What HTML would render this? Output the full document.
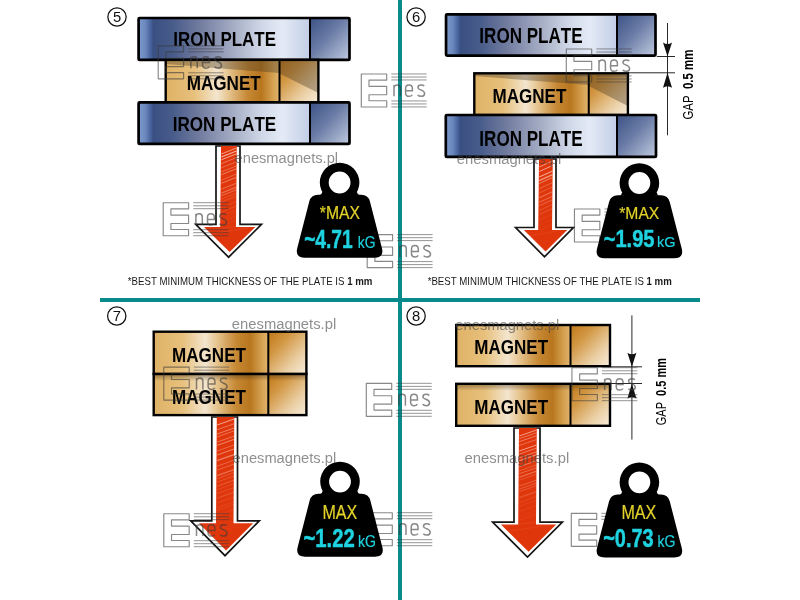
<!DOCTYPE html>
<html><head><meta charset="utf-8"><style>
html,body{margin:0;padding:0;background:#fff;}
svg{display:block;will-change:transform;} text{font-kerning:none;}
</style></head><body>
<svg width="800" height="600" viewBox="0 0 800 600">

<defs>
 <linearGradient id="ironMain" x1="0" y1="0" x2="1" y2="0">
  <stop offset="0" stop-color="#7c9acc"/>
  <stop offset="0.04" stop-color="#6a88bc"/>
  <stop offset="0.068" stop-color="#4a66a0"/>
  <stop offset="0.085" stop-color="#3a5082"/>
  <stop offset="0.2" stop-color="#485c8a"/>
  <stop offset="0.35" stop-color="#707a9e"/>
  <stop offset="0.55" stop-color="#a4acc4"/>
  <stop offset="0.72" stop-color="#d0d8e8"/>
  <stop offset="0.84" stop-color="#e4eaf6"/>
  <stop offset="1" stop-color="#c2cee6"/>
 </linearGradient>
 <linearGradient id="ironEnd" x1="0" y1="0" x2="1" y2="1">
  <stop offset="0" stop-color="#3c5286"/>
  <stop offset="0.45" stop-color="#6a7ca6"/>
  <stop offset="1" stop-color="#c0cae0"/>
 </linearGradient>
 <linearGradient id="magMain" x1="0" y1="0" x2="1" y2="0">
  <stop offset="0" stop-color="#dfb266"/>
  <stop offset="0.25" stop-color="#e7c07c"/>
  <stop offset="0.45" stop-color="#f3e5ce"/>
  <stop offset="0.55" stop-color="#e6c590"/>
  <stop offset="0.72" stop-color="#c68834"/>
  <stop offset="0.84" stop-color="#b8761e"/>
  <stop offset="0.94" stop-color="#d4a050"/>
  <stop offset="1" stop-color="#e2b470"/>
 </linearGradient>
 <linearGradient id="magEnd" x1="0" y1="0" x2="1" y2="1">
  <stop offset="0" stop-color="#c07818"/>
  <stop offset="0.3" stop-color="#d29642"/>
  <stop offset="0.7" stop-color="#eacfa4"/>
  <stop offset="1" stop-color="#f8ecdc"/>
 </linearGradient>
 <linearGradient id="topShade" x1="0" y1="0" x2="0" y2="1">
  <stop offset="0" stop-color="#3a2810" stop-opacity="0.45"/>
  <stop offset="1" stop-color="#3a2810" stop-opacity="0"/>
 </linearGradient>
</defs>
<rect width="800" height="600" fill="#fff"/>
<circle cx="117" cy="17" r="9.15" fill="none" stroke="#111" stroke-width="1.25"/><text x="117" y="21.9" text-anchor="middle" font-size="14.8" font-family='"Liberation Sans", sans-serif' fill="#111">5</text>
<rect x="138.6" y="18" width="171.4" height="41.9" fill="url(#ironMain)"/>
<rect x="310" y="18" width="39.5" height="41.9" fill="url(#ironEnd)"/>
<rect x="138.6" y="18" width="210.9" height="41.9" fill="none" stroke="#000" stroke-width="2.7" rx="1"/>
<line x1="310" y1="18" x2="310" y2="59.9" stroke="#000" stroke-width="2"/>
<text x="173.27" y="46.40" font-size="21.01" font-weight="bold" font-family='"Liberation Sans", sans-serif' fill="#000"  textLength="102.70" lengthAdjust="spacingAndGlyphs">IRON PLATE</text>
<rect x="165.7" y="59.9" width="113.80000000000001" height="42.50000000000001" fill="url(#magMain)"/>
<rect x="279.5" y="59.9" width="38.89999999999998" height="42.50000000000001" fill="url(#magEnd)"/>
<polygon points="165.7,59.9 279.5,59.9 279.5,73 165.7,64" fill="#4a3a24" opacity="0.38"/>
<polygon points="279.5,59.9 318.4,59.9 318.4,93 279.5,73.6" fill="#4a3a24" opacity="0.38"/>
<rect x="165.7" y="59.9" width="152.7" height="42.50000000000001" fill="none" stroke="#000" stroke-width="2.4"/>
<line x1="279.5" y1="59.9" x2="279.5" y2="102.4" stroke="#000" stroke-width="2"/>
<text x="186.66" y="89.70" font-size="20.87" font-weight="bold" font-family='"Liberation Sans", sans-serif' fill="#000"  textLength="74.13" lengthAdjust="spacingAndGlyphs">MAGNET</text>
<rect x="138.6" y="102.4" width="171.4" height="41.5" fill="url(#ironMain)"/>
<rect x="310" y="102.4" width="39.5" height="41.5" fill="url(#ironEnd)"/>
<rect x="138.6" y="102.4" width="210.9" height="41.5" fill="none" stroke="#000" stroke-width="2.7" rx="1"/>
<line x1="310" y1="102.4" x2="310" y2="143.9" stroke="#000" stroke-width="2"/>
<text x="172.71" y="130.60" font-size="20.87" font-weight="bold" font-family='"Liberation Sans", sans-serif' fill="#000"  textLength="103.56" lengthAdjust="spacingAndGlyphs">IRON PLATE</text>
<polygon points="216,146 240,146 240,224.4 261.5,224.4 228.6,257.2 195.7,224.4 216,224.4" fill="#fff" stroke="#151515" stroke-width="1.7" stroke-linejoin="miter"/>
<polygon points="221,146 236.8,146 236.0,226.9 255.3,226.9 229.65,252.0 204.0,226.9 220.2,226.9" fill="#e0360c"/>
<line x1="221.3" y1="154.0" x2="236.5" y2="148.0" stroke="#ffe2d8" stroke-width="0.76" opacity="0.77"/>
<line x1="221.3" y1="157.0" x2="236.5" y2="151.0" stroke="#ffe2d8" stroke-width="1.02" opacity="0.73"/>
<line x1="221.3" y1="159.8" x2="236.5" y2="153.8" stroke="#ffe2d8" stroke-width="0.93" opacity="0.70"/>
<line x1="221.3" y1="163.6" x2="236.5" y2="157.6" stroke="#ffe2d8" stroke-width="0.55" opacity="0.65"/>
<line x1="221.3" y1="167.8" x2="236.5" y2="161.8" stroke="#ffe2d8" stroke-width="0.53" opacity="0.60"/>
<line x1="221.3" y1="171.9" x2="236.5" y2="165.9" stroke="#ffe2d8" stroke-width="0.56" opacity="0.55"/>
<line x1="221.3" y1="174.7" x2="236.5" y2="168.7" stroke="#ffe2d8" stroke-width="0.84" opacity="0.51"/>
<line x1="221.3" y1="180.1" x2="236.5" y2="174.1" stroke="#ffe2d8" stroke-width="0.60" opacity="0.45"/>
<line x1="221.3" y1="183.3" x2="236.5" y2="177.3" stroke="#ffe2d8" stroke-width="1.00" opacity="0.41"/>
<line x1="221.3" y1="189.2" x2="236.5" y2="183.2" stroke="#ffe2d8" stroke-width="0.96" opacity="0.35"/>
<line x1="221.3" y1="193.1" x2="236.5" y2="187.1" stroke="#ffe2d8" stroke-width="1.28" opacity="0.31"/>
<line x1="221.3" y1="195.7" x2="236.5" y2="189.7" stroke="#ffe2d8" stroke-width="1.19" opacity="0.28"/>
<line x1="221.3" y1="199.2" x2="236.5" y2="193.2" stroke="#ffe2d8" stroke-width="0.62" opacity="0.24"/>
<line x1="221.3" y1="202.1" x2="236.5" y2="196.1" stroke="#ffe2d8" stroke-width="0.75" opacity="0.21"/>
<line x1="221.3" y1="207.5" x2="236.5" y2="201.5" stroke="#ffe2d8" stroke-width="0.64" opacity="0.16"/>
<line x1="221.3" y1="212.0" x2="236.5" y2="206.0" stroke="#ffe2d8" stroke-width="1.01" opacity="0.12"/>
<line x1="221.3" y1="215.8" x2="236.5" y2="209.8" stroke="#ffe2d8" stroke-width="0.94" opacity="0.09"/>
<line x1="221.3" y1="218.6" x2="236.5" y2="212.6" stroke="#ffe2d8" stroke-width="0.55" opacity="0.07"/>
<line x1="221.3" y1="221.8" x2="236.5" y2="215.8" stroke="#ffe2d8" stroke-width="1.04" opacity="0.06"/>
<line x1="221.3" y1="225.8" x2="236.5" y2="219.8" stroke="#ffe2d8" stroke-width="0.75" opacity="0.06"/>
<line x1="207.9" y1="230.3" x2="251.4" y2="224.3" stroke="#ffe2d8" stroke-width="0.86" opacity="0.06"/>
<line x1="211.1" y1="233.9" x2="248.2" y2="227.9" stroke="#ffe2d8" stroke-width="1.14" opacity="0.06"/>
<text x="127.84" y="284.80" font-size="11.59" font-weight="normal" font-family='"Liberation Sans", sans-serif' fill="#1a1a1a"  textLength="244.56" lengthAdjust="spacingAndGlyphs">*BEST MINIMUM THICKNESS OF THE PLATE IS <tspan font-weight="bold">1 mm</tspan></text>
<circle cx="416.1" cy="17" r="9.15" fill="none" stroke="#111" stroke-width="1.25"/><text x="416.1" y="21.9" text-anchor="middle" font-size="14.8" font-family='"Liberation Sans", sans-serif' fill="#111">6</text>
<rect x="446.05" y="14.4" width="170.95" height="41.2" fill="url(#ironMain)"/>
<rect x="617" y="14.4" width="38.5" height="41.2" fill="url(#ironEnd)"/>
<rect x="446.05" y="14.4" width="209.45" height="41.2" fill="none" stroke="#000" stroke-width="2.7" rx="1"/>
<line x1="617" y1="14.4" x2="617" y2="55.6" stroke="#000" stroke-width="2"/>
<text x="479.36" y="42.80" font-size="21.45" font-weight="bold" font-family='"Liberation Sans", sans-serif' fill="#000"  textLength="103.31" lengthAdjust="spacingAndGlyphs">IRON PLATE</text>
<rect x="474.3" y="73.3" width="114.44999999999999" height="41.7" fill="url(#magMain)"/>
<rect x="588.75" y="73.3" width="39.14999999999998" height="41.7" fill="url(#magEnd)"/>
<polygon points="474.3,73.3 588.75,73.3 588.75,85 474.3,76" fill="#4a3a24" opacity="0.38"/>
<polygon points="588.75,73.3 627.9,73.3 627.9,106 588.75,86" fill="#4a3a24" opacity="0.38"/>
<rect x="474.3" y="73.3" width="153.59999999999997" height="41.7" fill="none" stroke="#000" stroke-width="2.4"/>
<line x1="588.75" y1="73.3" x2="588.75" y2="115" stroke="#000" stroke-width="2"/>
<text x="492.46" y="102.60" font-size="20.80" font-weight="bold" font-family='"Liberation Sans", sans-serif' fill="#000"  textLength="73.92" lengthAdjust="spacingAndGlyphs">MAGNET</text>
<rect x="445.8" y="115" width="171.2" height="41.900000000000006" fill="url(#ironMain)"/>
<rect x="617" y="115" width="39" height="41.900000000000006" fill="url(#ironEnd)"/>
<rect x="445.8" y="115" width="210.2" height="41.900000000000006" fill="none" stroke="#000" stroke-width="2.7" rx="1"/>
<line x1="617" y1="115" x2="617" y2="156.9" stroke="#000" stroke-width="2"/>
<text x="479.36" y="145.70" font-size="21.45" font-weight="bold" font-family='"Liberation Sans", sans-serif' fill="#000"  textLength="103.31" lengthAdjust="spacingAndGlyphs">IRON PLATE</text>
<polygon points="534,159 556,159 556,227.5 573.4,227.5 544.5,256.8 515.6,227.5 534,227.5" fill="#fff" stroke="#151515" stroke-width="1.7" stroke-linejoin="miter"/>
<polygon points="539,159 552.8,159 552.0,230.0 567.1999999999999,230.0 545.55,251.60000000000002 523.9,230.0 538.2,230.0" fill="#e0360c"/>
<line x1="539.3" y1="167.0" x2="552.5" y2="161.0" stroke="#ffe2d8" stroke-width="0.70" opacity="0.77"/>
<line x1="539.3" y1="171.5" x2="552.5" y2="165.5" stroke="#ffe2d8" stroke-width="0.92" opacity="0.70"/>
<line x1="539.3" y1="177.1" x2="552.5" y2="171.1" stroke="#ffe2d8" stroke-width="1.08" opacity="0.62"/>
<line x1="539.3" y1="180.6" x2="552.5" y2="174.6" stroke="#ffe2d8" stroke-width="1.28" opacity="0.57"/>
<line x1="539.3" y1="183.5" x2="552.5" y2="177.5" stroke="#ffe2d8" stroke-width="0.83" opacity="0.53"/>
<line x1="539.3" y1="188.6" x2="552.5" y2="182.6" stroke="#ffe2d8" stroke-width="0.62" opacity="0.46"/>
<line x1="539.3" y1="192.9" x2="552.5" y2="186.9" stroke="#ffe2d8" stroke-width="0.53" opacity="0.41"/>
<line x1="539.3" y1="197.7" x2="552.5" y2="191.7" stroke="#ffe2d8" stroke-width="1.11" opacity="0.34"/>
<line x1="539.3" y1="202.2" x2="552.5" y2="196.2" stroke="#ffe2d8" stroke-width="1.20" opacity="0.29"/>
<line x1="539.3" y1="205.8" x2="552.5" y2="199.8" stroke="#ffe2d8" stroke-width="1.06" opacity="0.25"/>
<line x1="539.3" y1="210.4" x2="552.5" y2="204.4" stroke="#ffe2d8" stroke-width="0.96" opacity="0.19"/>
<line x1="539.3" y1="214.5" x2="552.5" y2="208.5" stroke="#ffe2d8" stroke-width="1.17" opacity="0.15"/>
<line x1="539.3" y1="220.3" x2="552.5" y2="214.3" stroke="#ffe2d8" stroke-width="0.88" opacity="0.09"/>
<line x1="539.3" y1="225.1" x2="552.5" y2="219.1" stroke="#ffe2d8" stroke-width="0.55" opacity="0.06"/>
<line x1="539.3" y1="230.1" x2="552.5" y2="224.1" stroke="#ffe2d8" stroke-width="1.02" opacity="0.06"/>
<line x1="530.2" y1="236.0" x2="560.9" y2="230.0" stroke="#ffe2d8" stroke-width="1.16" opacity="0.06"/>
<line x1="667.5" y1="23" x2="667.5" y2="135.3" stroke="#111" stroke-width="0.9"/>
<line x1="656.8" y1="56.5" x2="675" y2="56.5" stroke="#111" stroke-width="0.9"/>
<line x1="628" y1="72.8" x2="675" y2="72.8" stroke="#111" stroke-width="0.9"/>
<path d="M663.0,42.5 Q667.5,45.5 672.0,42.5 L667.5,56.5 Z" fill="#111"/>
<path d="M663.0,87.8 Q667.5,84.8 672.0,87.8 L667.5,72.8 Z" fill="#111"/>
<g transform="translate(693.2,119) rotate(-90)"><text x="-0.57" y="0.00" font-size="15.07" font-weight="normal" font-family='"Liberation Sans", sans-serif' fill="#000"  textLength="69.88" lengthAdjust="spacingAndGlyphs">GAP  <tspan font-weight="bold">0.5 mm</tspan></text></g>
<text x="427.64" y="284.80" font-size="11.59" font-weight="normal" font-family='"Liberation Sans", sans-serif' fill="#1a1a1a"  textLength="244.15" lengthAdjust="spacingAndGlyphs">*BEST MINIMUM THICKNESS OF THE PLATE IS <tspan font-weight="bold">1 mm</tspan></text>
<circle cx="116.75" cy="316" r="9.15" fill="none" stroke="#111" stroke-width="1.25"/><text x="116.75" y="320.9" text-anchor="middle" font-size="14.8" font-family='"Liberation Sans", sans-serif' fill="#111">7</text>
<rect x="153.7" y="331.7" width="114.60000000000002" height="42.30000000000001" fill="url(#magMain)"/>
<rect x="268.3" y="331.7" width="38.099999999999966" height="42.30000000000001" fill="url(#magEnd)"/>
<rect x="153.7" y="331.7" width="152.7" height="42.30000000000001" fill="none" stroke="#000" stroke-width="2.4"/>
<line x1="268.3" y1="331.7" x2="268.3" y2="374" stroke="#000" stroke-width="2"/>
<text x="172.06" y="361.50" font-size="21.01" font-weight="bold" font-family='"Liberation Sans", sans-serif' fill="#000"  textLength="73.92" lengthAdjust="spacingAndGlyphs">MAGNET</text>
<rect x="153.7" y="374" width="114.60000000000002" height="41.10000000000002" fill="url(#magMain)"/>
<rect x="268.3" y="374" width="38.099999999999966" height="41.10000000000002" fill="url(#magEnd)"/>
<rect x="153.7" y="374" width="152.7" height="7" fill="url(#topShade)"/>
<rect x="153.7" y="374" width="152.7" height="41.10000000000002" fill="none" stroke="#000" stroke-width="2.4"/>
<line x1="268.3" y1="374" x2="268.3" y2="415.1" stroke="#000" stroke-width="2"/>
<text x="172.06" y="403.50" font-size="21.01" font-weight="bold" font-family='"Liberation Sans", sans-serif' fill="#000"  textLength="73.92" lengthAdjust="spacingAndGlyphs">MAGNET</text>
<polygon points="211.8,417 237.5,417 237.5,520.8 259.3,520.8 225.0,555.7 190.7,520.8 211.8,520.8" fill="#fff" stroke="#151515" stroke-width="1.7" stroke-linejoin="miter"/>
<polygon points="216.8,417 234.3,417 233.5,523.3 253.10000000000002,523.3 226.05,550.5 199.0,523.3 216.0,523.3" fill="#e0360c"/>
<line x1="217.1" y1="425.0" x2="234.0" y2="419.0" stroke="#ffe2d8" stroke-width="0.81" opacity="0.78"/>
<line x1="217.1" y1="429.8" x2="234.0" y2="423.8" stroke="#ffe2d8" stroke-width="0.52" opacity="0.73"/>
<line x1="217.1" y1="434.0" x2="234.0" y2="428.0" stroke="#ffe2d8" stroke-width="0.63" opacity="0.69"/>
<line x1="217.1" y1="436.9" x2="234.0" y2="430.9" stroke="#ffe2d8" stroke-width="0.55" opacity="0.66"/>
<line x1="217.1" y1="442.1" x2="234.0" y2="436.1" stroke="#ffe2d8" stroke-width="0.60" opacity="0.61"/>
<line x1="217.1" y1="445.4" x2="234.0" y2="439.4" stroke="#ffe2d8" stroke-width="0.81" opacity="0.58"/>
<line x1="217.1" y1="451.0" x2="234.0" y2="445.0" stroke="#ffe2d8" stroke-width="0.56" opacity="0.53"/>
<line x1="217.1" y1="455.0" x2="234.0" y2="449.0" stroke="#ffe2d8" stroke-width="0.94" opacity="0.50"/>
<line x1="217.1" y1="460.6" x2="234.0" y2="454.6" stroke="#ffe2d8" stroke-width="1.16" opacity="0.45"/>
<line x1="217.1" y1="466.2" x2="234.0" y2="460.2" stroke="#ffe2d8" stroke-width="0.72" opacity="0.40"/>
<line x1="217.1" y1="470.1" x2="234.0" y2="464.1" stroke="#ffe2d8" stroke-width="0.79" opacity="0.36"/>
<line x1="217.1" y1="475.7" x2="234.0" y2="469.7" stroke="#ffe2d8" stroke-width="1.27" opacity="0.32"/>
<line x1="217.1" y1="478.7" x2="234.0" y2="472.7" stroke="#ffe2d8" stroke-width="0.64" opacity="0.29"/>
<line x1="217.1" y1="482.0" x2="234.0" y2="476.0" stroke="#ffe2d8" stroke-width="0.69" opacity="0.27"/>
<line x1="217.1" y1="486.2" x2="234.0" y2="480.2" stroke="#ffe2d8" stroke-width="0.97" opacity="0.24"/>
<line x1="217.1" y1="489.7" x2="234.0" y2="483.7" stroke="#ffe2d8" stroke-width="0.50" opacity="0.21"/>
<line x1="217.1" y1="493.6" x2="234.0" y2="487.6" stroke="#ffe2d8" stroke-width="0.80" opacity="0.18"/>
<line x1="217.1" y1="498.1" x2="234.0" y2="492.1" stroke="#ffe2d8" stroke-width="1.26" opacity="0.15"/>
<line x1="217.1" y1="503.0" x2="234.0" y2="497.0" stroke="#ffe2d8" stroke-width="0.91" opacity="0.12"/>
<line x1="217.1" y1="507.7" x2="234.0" y2="501.7" stroke="#ffe2d8" stroke-width="1.04" opacity="0.09"/>
<line x1="217.1" y1="510.4" x2="234.0" y2="504.4" stroke="#ffe2d8" stroke-width="1.22" opacity="0.07"/>
<line x1="217.1" y1="515.6" x2="234.0" y2="509.6" stroke="#ffe2d8" stroke-width="1.20" opacity="0.06"/>
<line x1="217.1" y1="520.9" x2="234.0" y2="514.9" stroke="#ffe2d8" stroke-width="0.81" opacity="0.06"/>
<line x1="201.2" y1="524.8" x2="250.9" y2="518.8" stroke="#ffe2d8" stroke-width="0.58" opacity="0.06"/>
<line x1="205.4" y1="529.5" x2="246.7" y2="523.5" stroke="#ffe2d8" stroke-width="0.55" opacity="0.06"/>
<line x1="207.9" y1="532.3" x2="244.2" y2="526.3" stroke="#ffe2d8" stroke-width="0.67" opacity="0.06"/>
<circle cx="416.1" cy="316" r="9.15" fill="none" stroke="#111" stroke-width="1.25"/><text x="416.1" y="320.9" text-anchor="middle" font-size="14.8" font-family='"Liberation Sans", sans-serif' fill="#111">8</text>
<rect x="456.2" y="325" width="114.30000000000001" height="41.19999999999999" fill="url(#magMain)"/>
<rect x="570.5" y="325" width="39.5" height="41.19999999999999" fill="url(#magEnd)"/>
<rect x="456.2" y="325" width="153.8" height="41.19999999999999" fill="none" stroke="#000" stroke-width="2.4"/>
<line x1="570.5" y1="325" x2="570.5" y2="366.2" stroke="#000" stroke-width="2"/>
<text x="474.26" y="354.10" font-size="20.43" font-weight="bold" font-family='"Liberation Sans", sans-serif' fill="#000"  textLength="73.82" lengthAdjust="spacingAndGlyphs">MAGNET</text>
<rect x="456.2" y="383.8" width="114.30000000000001" height="42.0" fill="url(#magMain)"/>
<rect x="570.5" y="383.8" width="39.5" height="42.0" fill="url(#magEnd)"/>
<rect x="456.2" y="383.8" width="153.8" height="7" fill="url(#topShade)"/>
<rect x="456.2" y="383.8" width="153.8" height="42.0" fill="none" stroke="#000" stroke-width="2.4"/>
<line x1="570.5" y1="383.8" x2="570.5" y2="425.8" stroke="#000" stroke-width="2"/>
<text x="474.26" y="413.60" font-size="20.58" font-weight="bold" font-family='"Liberation Sans", sans-serif' fill="#000"  textLength="73.82" lengthAdjust="spacingAndGlyphs">MAGNET</text>
<polygon points="514,428 540,428 540,522.1 562.4,522.1 527.5,557 492.6,522.1 514,522.1" fill="#fff" stroke="#151515" stroke-width="1.7" stroke-linejoin="miter"/>
<polygon points="519,428 536.8,428 536.0,524.6 556.1999999999999,524.6 528.55,551.8 500.90000000000003,524.6 518.2,524.6" fill="#e0360c"/>
<line x1="519.3" y1="436.0" x2="536.5" y2="430.0" stroke="#ffe2d8" stroke-width="0.77" opacity="0.78"/>
<line x1="519.3" y1="438.7" x2="536.5" y2="432.7" stroke="#ffe2d8" stroke-width="0.50" opacity="0.75"/>
<line x1="519.3" y1="441.7" x2="536.5" y2="435.7" stroke="#ffe2d8" stroke-width="0.58" opacity="0.72"/>
<line x1="519.3" y1="445.5" x2="536.5" y2="439.5" stroke="#ffe2d8" stroke-width="0.52" opacity="0.68"/>
<line x1="519.3" y1="451.0" x2="536.5" y2="445.0" stroke="#ffe2d8" stroke-width="0.99" opacity="0.62"/>
<line x1="519.3" y1="454.1" x2="536.5" y2="448.1" stroke="#ffe2d8" stroke-width="0.70" opacity="0.59"/>
<line x1="519.3" y1="457.8" x2="536.5" y2="451.8" stroke="#ffe2d8" stroke-width="0.79" opacity="0.55"/>
<line x1="519.3" y1="460.7" x2="536.5" y2="454.7" stroke="#ffe2d8" stroke-width="1.18" opacity="0.52"/>
<line x1="519.3" y1="466.7" x2="536.5" y2="460.7" stroke="#ffe2d8" stroke-width="0.87" opacity="0.46"/>
<line x1="519.3" y1="470.9" x2="536.5" y2="464.9" stroke="#ffe2d8" stroke-width="0.57" opacity="0.42"/>
<line x1="519.3" y1="473.7" x2="536.5" y2="467.7" stroke="#ffe2d8" stroke-width="0.77" opacity="0.39"/>
<line x1="519.3" y1="477.2" x2="536.5" y2="471.2" stroke="#ffe2d8" stroke-width="1.16" opacity="0.36"/>
<line x1="519.3" y1="480.2" x2="536.5" y2="474.2" stroke="#ffe2d8" stroke-width="0.52" opacity="0.33"/>
<line x1="519.3" y1="486.1" x2="536.5" y2="480.1" stroke="#ffe2d8" stroke-width="0.92" opacity="0.28"/>
<line x1="519.3" y1="489.1" x2="536.5" y2="483.1" stroke="#ffe2d8" stroke-width="0.93" opacity="0.25"/>
<line x1="519.3" y1="491.7" x2="536.5" y2="485.7" stroke="#ffe2d8" stroke-width="0.92" opacity="0.23"/>
<line x1="519.3" y1="497.6" x2="536.5" y2="491.6" stroke="#ffe2d8" stroke-width="1.19" opacity="0.18"/>
<line x1="519.3" y1="502.5" x2="536.5" y2="496.5" stroke="#ffe2d8" stroke-width="0.71" opacity="0.15"/>
<line x1="519.3" y1="506.3" x2="536.5" y2="500.3" stroke="#ffe2d8" stroke-width="0.63" opacity="0.12"/>
<line x1="519.3" y1="511.5" x2="536.5" y2="505.5" stroke="#ffe2d8" stroke-width="0.93" opacity="0.08"/>
<line x1="519.3" y1="516.7" x2="536.5" y2="510.7" stroke="#ffe2d8" stroke-width="0.76" opacity="0.06"/>
<line x1="519.3" y1="520.0" x2="536.5" y2="514.0" stroke="#ffe2d8" stroke-width="1.15" opacity="0.06"/>
<line x1="503.0" y1="526.0" x2="554.1" y2="520.0" stroke="#ffe2d8" stroke-width="1.18" opacity="0.06"/>
<line x1="507.8" y1="531.3" x2="549.3" y2="525.3" stroke="#ffe2d8" stroke-width="1.15" opacity="0.06"/>
<line x1="631.9" y1="315.4" x2="631.9" y2="439.6" stroke="#111" stroke-width="0.9"/>
<line x1="611" y1="366.8" x2="642" y2="366.8" stroke="#111" stroke-width="0.9"/>
<line x1="611" y1="383.5" x2="642" y2="383.5" stroke="#111" stroke-width="0.9"/>
<path d="M627.4,352.8 Q631.9,355.8 636.4,352.8 L631.9,366.8 Z" fill="#111"/>
<path d="M627.4,398.5 Q631.9,395.5 636.4,398.5 L631.9,383.5 Z" fill="#111"/>
<g transform="translate(665.6,424.7) rotate(-90)"><text x="-0.55" y="0.00" font-size="14.49" font-weight="normal" font-family='"Liberation Sans", sans-serif' fill="#000"  textLength="67.24" lengthAdjust="spacingAndGlyphs">GAP  <tspan font-weight="bold">0.5 mm</tspan></text></g>
<rect x="398" y="0" width="4" height="600" fill="#0a8a8a"/>
<rect x="100" y="298" width="600" height="4" fill="#0a8a8a"/>
<g opacity="0.6" fill="none" stroke="#3a3a3a">
<path d="M158.20,45.80 H183.60 V51.90 H165.90 V58.20 H183.60 V66.60 H165.90 V72.60 H183.60 V78.80 H158.20 Z" stroke-width="1.15" stroke-linejoin="round"/>
<line x1="188.20" y1="45.80" x2="223.60" y2="45.80" stroke-width="0.9"/>
<line x1="188.20" y1="48.90" x2="223.60" y2="48.90" stroke-width="0.9"/>
<line x1="188.20" y1="51.80" x2="223.60" y2="51.80" stroke-width="0.9"/>
<line x1="188.20" y1="72.80" x2="223.60" y2="72.80" stroke-width="0.9"/>
<line x1="188.20" y1="75.80" x2="223.60" y2="75.80" stroke-width="0.9"/>
<line x1="188.20" y1="78.80" x2="223.60" y2="78.80" stroke-width="0.9"/>
<path d="M190.90,68.20 V56.80 M190.90,60.00 C190.90,57.60 192.60,56.80 194.40,56.80 C196.40,56.80 197.30,57.90 197.30,60.10 V68.20 M202.50,62.60 H209.30 V60.40 C209.30,57.80 207.90,56.80 205.90,56.80 C203.80,56.80 202.50,57.80 202.50,60.40 V64.80 C202.50,67.30 203.80,68.20 206.00,68.20 C207.50,68.20 208.60,67.70 209.20,66.60 M221.20,58.00 C220.50,57.10 219.40,56.80 218.10,56.80 C216.10,56.80 214.80,57.70 214.80,59.50 C214.80,62.10 221.50,61.40 221.50,65.30 C221.50,67.30 220.20,68.20 218.10,68.20 C216.60,68.20 215.30,67.70 214.60,66.80" stroke-width="1.5" stroke-linecap="butt"/>
</g>
<g opacity="0.6" fill="none" stroke="#3a3a3a">
<path d="M361.30,73.95 H386.70 V80.05 H369.00 V86.35 H386.70 V94.75 H369.00 V100.75 H386.70 V106.95 H361.30 Z" stroke-width="1.15" stroke-linejoin="round"/>
<line x1="391.30" y1="73.95" x2="426.70" y2="73.95" stroke-width="0.9"/>
<line x1="391.30" y1="77.05" x2="426.70" y2="77.05" stroke-width="0.9"/>
<line x1="391.30" y1="79.95" x2="426.70" y2="79.95" stroke-width="0.9"/>
<line x1="391.30" y1="100.95" x2="426.70" y2="100.95" stroke-width="0.9"/>
<line x1="391.30" y1="103.95" x2="426.70" y2="103.95" stroke-width="0.9"/>
<line x1="391.30" y1="106.95" x2="426.70" y2="106.95" stroke-width="0.9"/>
<path d="M394.00,96.35 V84.95 M394.00,88.15 C394.00,85.75 395.70,84.95 397.50,84.95 C399.50,84.95 400.40,86.05 400.40,88.25 V96.35 M405.60,90.75 H412.40 V88.55 C412.40,85.95 411.00,84.95 409.00,84.95 C406.90,84.95 405.60,85.95 405.60,88.55 V92.95 C405.60,95.45 406.90,96.35 409.10,96.35 C410.60,96.35 411.70,95.85 412.30,94.75 M424.30,86.15 C423.60,85.25 422.50,84.95 421.20,84.95 C419.20,84.95 417.90,85.85 417.90,87.65 C417.90,90.25 424.60,89.55 424.60,93.45 C424.60,95.45 423.30,96.35 421.20,96.35 C419.70,96.35 418.40,95.85 417.70,94.95" stroke-width="1.5" stroke-linecap="butt"/>
</g>
<g opacity="0.6" fill="none" stroke="#3a3a3a">
<path d="M163.20,202.70 H188.60 V208.80 H170.90 V215.10 H188.60 V223.50 H170.90 V229.50 H188.60 V235.70 H163.20 Z" stroke-width="1.15" stroke-linejoin="round"/>
<line x1="193.20" y1="202.70" x2="228.60" y2="202.70" stroke-width="0.9"/>
<line x1="193.20" y1="205.80" x2="228.60" y2="205.80" stroke-width="0.9"/>
<line x1="193.20" y1="208.70" x2="228.60" y2="208.70" stroke-width="0.9"/>
<line x1="193.20" y1="229.70" x2="228.60" y2="229.70" stroke-width="0.9"/>
<line x1="193.20" y1="232.70" x2="228.60" y2="232.70" stroke-width="0.9"/>
<line x1="193.20" y1="235.70" x2="228.60" y2="235.70" stroke-width="0.9"/>
<path d="M195.90,225.10 V213.70 M195.90,216.90 C195.90,214.50 197.60,213.70 199.40,213.70 C201.40,213.70 202.30,214.80 202.30,217.00 V225.10 M207.50,219.50 H214.30 V217.30 C214.30,214.70 212.90,213.70 210.90,213.70 C208.80,213.70 207.50,214.70 207.50,217.30 V221.70 C207.50,224.20 208.80,225.10 211.00,225.10 C212.50,225.10 213.60,224.60 214.20,223.50 M226.20,214.90 C225.50,214.00 224.40,213.70 223.10,213.70 C221.10,213.70 219.80,214.60 219.80,216.40 C219.80,219.00 226.50,218.30 226.50,222.20 C226.50,224.20 225.20,225.10 223.10,225.10 C221.60,225.10 220.30,224.60 219.60,223.70" stroke-width="1.5" stroke-linecap="butt"/>
</g>
<g opacity="0.6" fill="none" stroke="#3a3a3a">
<path d="M367.20,234.60 H392.60 V240.70 H374.90 V247.00 H392.60 V255.40 H374.90 V261.40 H392.60 V267.60 H367.20 Z" stroke-width="1.15" stroke-linejoin="round"/>
<line x1="397.20" y1="234.60" x2="432.60" y2="234.60" stroke-width="0.9"/>
<line x1="397.20" y1="237.70" x2="432.60" y2="237.70" stroke-width="0.9"/>
<line x1="397.20" y1="240.60" x2="432.60" y2="240.60" stroke-width="0.9"/>
<line x1="397.20" y1="261.60" x2="432.60" y2="261.60" stroke-width="0.9"/>
<line x1="397.20" y1="264.60" x2="432.60" y2="264.60" stroke-width="0.9"/>
<line x1="397.20" y1="267.60" x2="432.60" y2="267.60" stroke-width="0.9"/>
<path d="M399.90,257.00 V245.60 M399.90,248.80 C399.90,246.40 401.60,245.60 403.40,245.60 C405.40,245.60 406.30,246.70 406.30,248.90 V257.00 M411.50,251.40 H418.30 V249.20 C418.30,246.60 416.90,245.60 414.90,245.60 C412.80,245.60 411.50,246.60 411.50,249.20 V253.60 C411.50,256.10 412.80,257.00 415.00,257.00 C416.50,257.00 417.60,256.50 418.20,255.40 M430.20,246.80 C429.50,245.90 428.40,245.60 427.10,245.60 C425.10,245.60 423.80,246.50 423.80,248.30 C423.80,250.90 430.50,250.20 430.50,254.10 C430.50,256.10 429.20,257.00 427.10,257.00 C425.60,257.00 424.30,256.50 423.60,255.60" stroke-width="1.5" stroke-linecap="butt"/>
</g>
<g opacity="0.6" fill="none" stroke="#3a3a3a">
<path d="M566.30,48.95 H591.70 V55.05 H574.00 V61.35 H591.70 V69.75 H574.00 V75.75 H591.70 V81.95 H566.30 Z" stroke-width="1.15" stroke-linejoin="round"/>
<line x1="596.30" y1="48.95" x2="631.70" y2="48.95" stroke-width="0.9"/>
<line x1="596.30" y1="52.05" x2="631.70" y2="52.05" stroke-width="0.9"/>
<line x1="596.30" y1="54.95" x2="631.70" y2="54.95" stroke-width="0.9"/>
<line x1="596.30" y1="75.95" x2="631.70" y2="75.95" stroke-width="0.9"/>
<line x1="596.30" y1="78.95" x2="631.70" y2="78.95" stroke-width="0.9"/>
<line x1="596.30" y1="81.95" x2="631.70" y2="81.95" stroke-width="0.9"/>
<path d="M599.00,71.35 V59.95 M599.00,63.15 C599.00,60.75 600.70,59.95 602.50,59.95 C604.50,59.95 605.40,61.05 605.40,63.25 V71.35 M610.60,65.75 H617.40 V63.55 C617.40,60.95 616.00,59.95 614.00,59.95 C611.90,59.95 610.60,60.95 610.60,63.55 V67.95 C610.60,70.45 611.90,71.35 614.10,71.35 C615.60,71.35 616.70,70.85 617.30,69.75 M629.30,61.15 C628.60,60.25 627.50,59.95 626.20,59.95 C624.20,59.95 622.90,60.85 622.90,62.65 C622.90,65.25 629.60,64.55 629.60,68.45 C629.60,70.45 628.30,71.35 626.20,71.35 C624.70,71.35 623.40,70.85 622.70,69.95" stroke-width="1.5" stroke-linecap="butt"/>
</g>
<g opacity="0.6" fill="none" stroke="#3a3a3a">
<path d="M574.45,208.95 H599.85 V215.05 H582.15 V221.35 H599.85 V229.75 H582.15 V235.75 H599.85 V241.95 H574.45 Z" stroke-width="1.15" stroke-linejoin="round"/>
<line x1="604.45" y1="208.95" x2="639.85" y2="208.95" stroke-width="0.9"/>
<line x1="604.45" y1="212.05" x2="639.85" y2="212.05" stroke-width="0.9"/>
<line x1="604.45" y1="214.95" x2="639.85" y2="214.95" stroke-width="0.9"/>
<line x1="604.45" y1="235.95" x2="639.85" y2="235.95" stroke-width="0.9"/>
<line x1="604.45" y1="238.95" x2="639.85" y2="238.95" stroke-width="0.9"/>
<line x1="604.45" y1="241.95" x2="639.85" y2="241.95" stroke-width="0.9"/>
<path d="M607.15,231.35 V219.95 M607.15,223.15 C607.15,220.75 608.85,219.95 610.65,219.95 C612.65,219.95 613.55,221.05 613.55,223.25 V231.35 M618.75,225.75 H625.55 V223.55 C625.55,220.95 624.15,219.95 622.15,219.95 C620.05,219.95 618.75,220.95 618.75,223.55 V227.95 C618.75,230.45 620.05,231.35 622.25,231.35 C623.75,231.35 624.85,230.85 625.45,229.75 M637.45,221.15 C636.75,220.25 635.65,219.95 634.35,219.95 C632.35,219.95 631.05,220.85 631.05,222.65 C631.05,225.25 637.75,224.55 637.75,228.45 C637.75,230.45 636.45,231.35 634.35,231.35 C632.85,231.35 631.55,230.85 630.85,229.95" stroke-width="1.5" stroke-linecap="butt"/>
</g>
<g opacity="0.6" fill="none" stroke="#3a3a3a">
<path d="M163.80,367.10 H189.20 V373.20 H171.50 V379.50 H189.20 V387.90 H171.50 V393.90 H189.20 V400.10 H163.80 Z" stroke-width="1.15" stroke-linejoin="round"/>
<line x1="193.80" y1="367.10" x2="229.20" y2="367.10" stroke-width="0.9"/>
<line x1="193.80" y1="370.20" x2="229.20" y2="370.20" stroke-width="0.9"/>
<line x1="193.80" y1="373.10" x2="229.20" y2="373.10" stroke-width="0.9"/>
<line x1="193.80" y1="394.10" x2="229.20" y2="394.10" stroke-width="0.9"/>
<line x1="193.80" y1="397.10" x2="229.20" y2="397.10" stroke-width="0.9"/>
<line x1="193.80" y1="400.10" x2="229.20" y2="400.10" stroke-width="0.9"/>
<path d="M196.50,389.50 V378.10 M196.50,381.30 C196.50,378.90 198.20,378.10 200.00,378.10 C202.00,378.10 202.90,379.20 202.90,381.40 V389.50 M208.10,383.90 H214.90 V381.70 C214.90,379.10 213.50,378.10 211.50,378.10 C209.40,378.10 208.10,379.10 208.10,381.70 V386.10 C208.10,388.60 209.40,389.50 211.60,389.50 C213.10,389.50 214.20,389.00 214.80,387.90 M226.80,379.30 C226.10,378.40 225.00,378.10 223.70,378.10 C221.70,378.10 220.40,379.00 220.40,380.80 C220.40,383.40 227.10,382.70 227.10,386.60 C227.10,388.60 225.80,389.50 223.70,389.50 C222.20,389.50 220.90,389.00 220.20,388.10" stroke-width="1.5" stroke-linecap="butt"/>
</g>
<g opacity="0.6" fill="none" stroke="#3a3a3a">
<path d="M366.30,383.30 H391.70 V389.40 H374.00 V395.70 H391.70 V404.10 H374.00 V410.10 H391.70 V416.30 H366.30 Z" stroke-width="1.15" stroke-linejoin="round"/>
<line x1="396.30" y1="383.30" x2="431.70" y2="383.30" stroke-width="0.9"/>
<line x1="396.30" y1="386.40" x2="431.70" y2="386.40" stroke-width="0.9"/>
<line x1="396.30" y1="389.30" x2="431.70" y2="389.30" stroke-width="0.9"/>
<line x1="396.30" y1="410.30" x2="431.70" y2="410.30" stroke-width="0.9"/>
<line x1="396.30" y1="413.30" x2="431.70" y2="413.30" stroke-width="0.9"/>
<line x1="396.30" y1="416.30" x2="431.70" y2="416.30" stroke-width="0.9"/>
<path d="M399.00,405.70 V394.30 M399.00,397.50 C399.00,395.10 400.70,394.30 402.50,394.30 C404.50,394.30 405.40,395.40 405.40,397.60 V405.70 M410.60,400.10 H417.40 V397.90 C417.40,395.30 416.00,394.30 414.00,394.30 C411.90,394.30 410.60,395.30 410.60,397.90 V402.30 C410.60,404.80 411.90,405.70 414.10,405.70 C415.60,405.70 416.70,405.20 417.30,404.10 M429.30,395.50 C428.60,394.60 427.50,394.30 426.20,394.30 C424.20,394.30 422.90,395.20 422.90,397.00 C422.90,399.60 429.60,398.90 429.60,402.80 C429.60,404.80 428.30,405.70 426.20,405.70 C424.70,405.70 423.40,405.20 422.70,404.30" stroke-width="1.5" stroke-linecap="butt"/>
</g>
<g opacity="0.6" fill="none" stroke="#3a3a3a">
<path d="M163.80,513.70 H189.20 V519.80 H171.50 V526.10 H189.20 V534.50 H171.50 V540.50 H189.20 V546.70 H163.80 Z" stroke-width="1.15" stroke-linejoin="round"/>
<line x1="193.80" y1="513.70" x2="229.20" y2="513.70" stroke-width="0.9"/>
<line x1="193.80" y1="516.80" x2="229.20" y2="516.80" stroke-width="0.9"/>
<line x1="193.80" y1="519.70" x2="229.20" y2="519.70" stroke-width="0.9"/>
<line x1="193.80" y1="540.70" x2="229.20" y2="540.70" stroke-width="0.9"/>
<line x1="193.80" y1="543.70" x2="229.20" y2="543.70" stroke-width="0.9"/>
<line x1="193.80" y1="546.70" x2="229.20" y2="546.70" stroke-width="0.9"/>
<path d="M196.50,536.10 V524.70 M196.50,527.90 C196.50,525.50 198.20,524.70 200.00,524.70 C202.00,524.70 202.90,525.80 202.90,528.00 V536.10 M208.10,530.50 H214.90 V528.30 C214.90,525.70 213.50,524.70 211.50,524.70 C209.40,524.70 208.10,525.70 208.10,528.30 V532.70 C208.10,535.20 209.40,536.10 211.60,536.10 C213.10,536.10 214.20,535.60 214.80,534.50 M226.80,525.90 C226.10,525.00 225.00,524.70 223.70,524.70 C221.70,524.70 220.40,525.60 220.40,527.40 C220.40,530.00 227.10,529.30 227.10,533.20 C227.10,535.20 225.80,536.10 223.70,536.10 C222.20,536.10 220.90,535.60 220.20,534.70" stroke-width="1.5" stroke-linecap="butt"/>
</g>
<g opacity="0.6" fill="none" stroke="#3a3a3a">
<path d="M366.90,512.70 H392.30 V518.80 H374.60 V525.10 H392.30 V533.50 H374.60 V539.50 H392.30 V545.70 H366.90 Z" stroke-width="1.15" stroke-linejoin="round"/>
<line x1="396.90" y1="512.70" x2="432.30" y2="512.70" stroke-width="0.9"/>
<line x1="396.90" y1="515.80" x2="432.30" y2="515.80" stroke-width="0.9"/>
<line x1="396.90" y1="518.70" x2="432.30" y2="518.70" stroke-width="0.9"/>
<line x1="396.90" y1="539.70" x2="432.30" y2="539.70" stroke-width="0.9"/>
<line x1="396.90" y1="542.70" x2="432.30" y2="542.70" stroke-width="0.9"/>
<line x1="396.90" y1="545.70" x2="432.30" y2="545.70" stroke-width="0.9"/>
<path d="M399.60,535.10 V523.70 M399.60,526.90 C399.60,524.50 401.30,523.70 403.10,523.70 C405.10,523.70 406.00,524.80 406.00,527.00 V535.10 M411.20,529.50 H418.00 V527.30 C418.00,524.70 416.60,523.70 414.60,523.70 C412.50,523.70 411.20,524.70 411.20,527.30 V531.70 C411.20,534.20 412.50,535.10 414.70,535.10 C416.20,535.10 417.30,534.60 417.90,533.50 M429.90,524.90 C429.20,524.00 428.10,523.70 426.80,523.70 C424.80,523.70 423.50,524.60 423.50,526.40 C423.50,529.00 430.20,528.30 430.20,532.20 C430.20,534.20 428.90,535.10 426.80,535.10 C425.30,535.10 424.00,534.60 423.30,533.70" stroke-width="1.5" stroke-linecap="butt"/>
</g>
<g opacity="0.6" fill="none" stroke="#3a3a3a">
<path d="M571.95,367.70 H597.35 V373.80 H579.65 V380.10 H597.35 V388.50 H579.65 V394.50 H597.35 V400.70 H571.95 Z" stroke-width="1.15" stroke-linejoin="round"/>
<line x1="601.95" y1="367.70" x2="637.35" y2="367.70" stroke-width="0.9"/>
<line x1="601.95" y1="370.80" x2="637.35" y2="370.80" stroke-width="0.9"/>
<line x1="601.95" y1="373.70" x2="637.35" y2="373.70" stroke-width="0.9"/>
<line x1="601.95" y1="394.70" x2="637.35" y2="394.70" stroke-width="0.9"/>
<line x1="601.95" y1="397.70" x2="637.35" y2="397.70" stroke-width="0.9"/>
<line x1="601.95" y1="400.70" x2="637.35" y2="400.70" stroke-width="0.9"/>
<path d="M604.65,390.10 V378.70 M604.65,381.90 C604.65,379.50 606.35,378.70 608.15,378.70 C610.15,378.70 611.05,379.80 611.05,382.00 V390.10 M616.25,384.50 H623.05 V382.30 C623.05,379.70 621.65,378.70 619.65,378.70 C617.55,378.70 616.25,379.70 616.25,382.30 V386.70 C616.25,389.20 617.55,390.10 619.75,390.10 C621.25,390.10 622.35,389.60 622.95,388.50 M634.95,379.90 C634.25,379.00 633.15,378.70 631.85,378.70 C629.85,378.70 628.55,379.60 628.55,381.40 C628.55,384.00 635.25,383.30 635.25,387.20 C635.25,389.20 633.95,390.10 631.85,390.10 C630.35,390.10 629.05,389.60 628.35,388.70" stroke-width="1.5" stroke-linecap="butt"/>
</g>
<g opacity="0.6" fill="none" stroke="#3a3a3a">
<path d="M571.30,513.30 H596.70 V519.40 H579.00 V525.70 H596.70 V534.10 H579.00 V540.10 H596.70 V546.30 H571.30 Z" stroke-width="1.15" stroke-linejoin="round"/>
<line x1="601.30" y1="513.30" x2="636.70" y2="513.30" stroke-width="0.9"/>
<line x1="601.30" y1="516.40" x2="636.70" y2="516.40" stroke-width="0.9"/>
<line x1="601.30" y1="519.30" x2="636.70" y2="519.30" stroke-width="0.9"/>
<line x1="601.30" y1="540.30" x2="636.70" y2="540.30" stroke-width="0.9"/>
<line x1="601.30" y1="543.30" x2="636.70" y2="543.30" stroke-width="0.9"/>
<line x1="601.30" y1="546.30" x2="636.70" y2="546.30" stroke-width="0.9"/>
<path d="M604.00,535.70 V524.30 M604.00,527.50 C604.00,525.10 605.70,524.30 607.50,524.30 C609.50,524.30 610.40,525.40 610.40,527.60 V535.70 M615.60,530.10 H622.40 V527.90 C622.40,525.30 621.00,524.30 619.00,524.30 C616.90,524.30 615.60,525.30 615.60,527.90 V532.30 C615.60,534.80 616.90,535.70 619.10,535.70 C620.60,535.70 621.70,535.20 622.30,534.10 M634.30,525.50 C633.60,524.60 632.50,524.30 631.20,524.30 C629.20,524.30 627.90,525.20 627.90,527.00 C627.90,529.60 634.60,528.90 634.60,532.80 C634.60,534.80 633.30,535.70 631.20,535.70 C629.70,535.70 628.40,535.20 627.70,534.30" stroke-width="1.5" stroke-linecap="butt"/>
</g>
<text x="234.58" y="163.3" font-size="14.39" font-family='"Liberation Sans", sans-serif' fill="#444" opacity="0.6" textLength="103.50" lengthAdjust="spacingAndGlyphs">enesmagnets.pl</text>
<text x="456.87" y="163.7" font-size="14.39" font-family='"Liberation Sans", sans-serif' fill="#444" opacity="0.6" textLength="104.32" lengthAdjust="spacingAndGlyphs">enesmagnets.pl</text>
<text x="231.87" y="329.2" font-size="14.39" font-family='"Liberation Sans", sans-serif' fill="#444" opacity="0.6" textLength="104.32" lengthAdjust="spacingAndGlyphs">enesmagnets.pl</text>
<text x="232.58" y="462.7" font-size="14.39" font-family='"Liberation Sans", sans-serif' fill="#444" opacity="0.6" textLength="103.61" lengthAdjust="spacingAndGlyphs">enesmagnets.pl</text>
<text x="455.38" y="329.7" font-size="14.39" font-family='"Liberation Sans", sans-serif' fill="#444" opacity="0.6" textLength="103.81" lengthAdjust="spacingAndGlyphs">enesmagnets.pl</text>
<text x="464.57" y="462.7" font-size="14.39" font-family='"Liberation Sans", sans-serif' fill="#444" opacity="0.6" textLength="104.62" lengthAdjust="spacingAndGlyphs">enesmagnets.pl</text>
<path d="M319.8,182.5 a19.8,19.8 0 1,1 39.6,0 a19.8,19.8 0 1,1 -39.6,0 Z M328.70000000000005,182.5 a10.9,10.9 0 1,0 21.8,0 a10.9,10.9 0 1,0 -21.8,0 Z" fill="#000" fill-rule="evenodd"/>
<path d="M318.00,194.7 L361.20,194.7 Q368.20,194.7 369.94,201.48 L381.91,248.02 Q384.40,257.7 374.40,257.7 L304.80,257.7 Q294.80,257.7 297.29,248.02 L309.26,201.48 Q311.00,194.7 318.00,194.7 Z" fill="#000"/>
<path d="M319.63,195.2 Q321.93,194.5 322.23,192.00 L330.6,195.2 Z M359.57,195.2 Q357.27,194.5 356.97,192.00 L348.6,195.2 Z" fill="#000"/>
<text x="319.85" y="219.30" font-size="17.97" font-weight="normal" font-family='"Liberation Sans", sans-serif' fill="#e2d22a" stroke="#e2d22a" stroke-width="0.2" textLength="40.18" lengthAdjust="spacingAndGlyphs">*MAX</text>
<text x="304.14" y="247.70" font-size="25.22" font-weight="bold" font-family='"Liberation Sans", sans-serif' fill="#1fd2e0" stroke="#1fd2e0" stroke-width="0.45" textLength="48.59" lengthAdjust="spacingAndGlyphs">~4.71</text>
<text x="357.82" y="247.75" font-size="16.67" font-weight="normal" font-family='"Liberation Sans", sans-serif' fill="#1fd2e0" stroke="#1fd2e0" stroke-width="0.2" textLength="17.72" lengthAdjust="spacingAndGlyphs">kG</text>
<path d="M619.6,183 a19.8,19.8 0 1,1 39.6,0 a19.8,19.8 0 1,1 -39.6,0 Z M628.5,183 a10.9,10.9 0 1,0 21.8,0 a10.9,10.9 0 1,0 -21.8,0 Z" fill="#000" fill-rule="evenodd"/>
<path d="M617.80,195.2 L661.00,195.2 Q668.00,195.2 669.74,201.98 L681.71,248.52 Q684.20,258.2 674.20,258.2 L604.60,258.2 Q594.60,258.2 597.09,248.52 L609.06,201.98 Q610.80,195.2 617.80,195.2 Z" fill="#000"/>
<path d="M619.43,195.7 Q621.73,195.0 622.03,192.50 L630.4,195.7 Z M659.37,195.7 Q657.07,195.0 656.77,192.50 L648.4,195.7 Z" fill="#000"/>
<text x="619.25" y="219.20" font-size="17.39" font-weight="normal" font-family='"Liberation Sans", sans-serif' fill="#e2d22a" stroke="#e2d22a" stroke-width="0.2" textLength="40.08" lengthAdjust="spacingAndGlyphs">*MAX</text>
<text x="603.71" y="247.00" font-size="24.64" font-weight="bold" font-family='"Liberation Sans", sans-serif' fill="#1fd2e0" stroke="#1fd2e0" stroke-width="0.45" textLength="50.85" lengthAdjust="spacingAndGlyphs">~1.95</text>
<text x="657.02" y="247.00" font-size="15.22" font-weight="normal" font-family='"Liberation Sans", sans-serif' fill="#1fd2e0" stroke="#1fd2e0" stroke-width="0.2" textLength="18.56" lengthAdjust="spacingAndGlyphs">kG</text>
<path d="M320.2,481.6 a19.8,19.8 0 1,1 39.6,0 a19.8,19.8 0 1,1 -39.6,0 Z M329.1,481.6 a10.9,10.9 0 1,0 21.8,0 a10.9,10.9 0 1,0 -21.8,0 Z" fill="#000" fill-rule="evenodd"/>
<path d="M318.40,493.8 L361.60,493.8 Q368.60,493.8 370.34,500.58 L382.31,547.12 Q384.80,556.8000000000001 374.80,556.8000000000001 L305.20,556.8000000000001 Q295.20,556.8000000000001 297.69,547.12 L309.66,500.58 Q311.40,493.8 318.40,493.8 Z" fill="#000"/>
<path d="M320.03,494.3 Q322.33,493.6 322.63,491.10 L331,494.3 Z M359.97,494.3 Q357.67,493.6 357.37,491.10 L349,494.3 Z" fill="#000"/>
<text x="322.48" y="518.50" font-size="19.57" font-weight="normal" font-family='"Liberation Sans", sans-serif' fill="#e2d22a" stroke="#e2d22a" stroke-width="0.2" textLength="34.86" lengthAdjust="spacingAndGlyphs">MAX</text>
<text x="303.40" y="546.50" font-size="25.36" font-weight="bold" font-family='"Liberation Sans", sans-serif' fill="#1fd2e0" stroke="#1fd2e0" stroke-width="0.45" textLength="51.42" lengthAdjust="spacingAndGlyphs">~1.22</text>
<text x="358.05" y="546.50" font-size="15.94" font-weight="normal" font-family='"Liberation Sans", sans-serif' fill="#1fd2e0" stroke="#1fd2e0" stroke-width="0.2" textLength="18.00" lengthAdjust="spacingAndGlyphs">kG</text>
<path d="M619.6,482.3 a19.8,19.8 0 1,1 39.6,0 a19.8,19.8 0 1,1 -39.6,0 Z M628.5,482.3 a10.9,10.9 0 1,0 21.8,0 a10.9,10.9 0 1,0 -21.8,0 Z" fill="#000" fill-rule="evenodd"/>
<path d="M617.80,494.5 L661.00,494.5 Q668.00,494.5 669.74,501.28 L681.71,547.82 Q684.20,557.5 674.20,557.5 L604.60,557.5 Q594.60,557.5 597.09,547.82 L609.06,501.28 Q610.80,494.5 617.80,494.5 Z" fill="#000"/>
<path d="M619.43,495.0 Q621.73,494.3 622.03,491.80 L630.4,495.0 Z M659.37,495.0 Q657.07,494.3 656.77,491.80 L648.4,495.0 Z" fill="#000"/>
<text x="621.48" y="518.50" font-size="20.29" font-weight="normal" font-family='"Liberation Sans", sans-serif' fill="#e2d22a" stroke="#e2d22a" stroke-width="0.2" textLength="34.86" lengthAdjust="spacingAndGlyphs">MAX</text>
<text x="603.21" y="546.50" font-size="25.36" font-weight="bold" font-family='"Liberation Sans", sans-serif' fill="#1fd2e0" stroke="#1fd2e0" stroke-width="0.45" textLength="50.51" lengthAdjust="spacingAndGlyphs">~0.73</text>
<text x="657.55" y="546.50" font-size="15.94" font-weight="normal" font-family='"Liberation Sans", sans-serif' fill="#1fd2e0" stroke="#1fd2e0" stroke-width="0.2" textLength="18.00" lengthAdjust="spacingAndGlyphs">kG</text>
</svg>
</body></html>
